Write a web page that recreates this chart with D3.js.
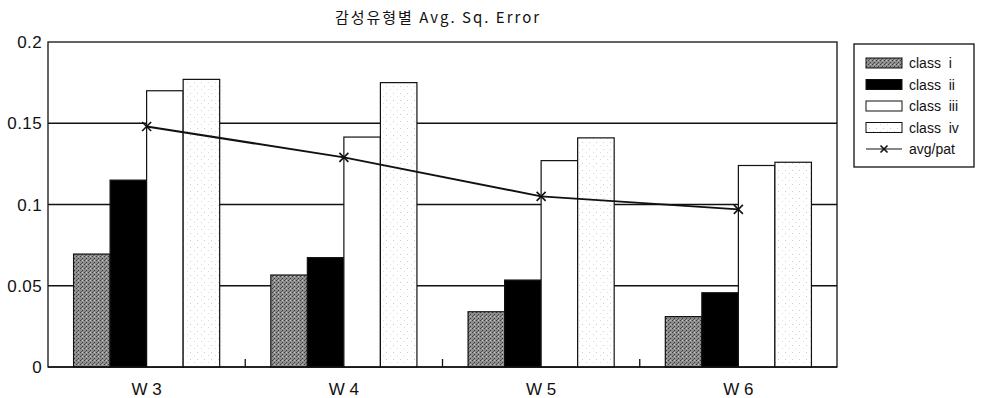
<!DOCTYPE html>
<html><head><meta charset="utf-8">
<script src="https://cdn.jsdelivr.net/npm/d3@7"></script>
<style>body{margin:0;background:#fff}svg{display:block}text{font-family:"Liberation Sans",Arial,sans-serif;fill:#111}</style>
</head><body><svg id="c" width="982" height="398"></svg>
<script>
const categories = ["W 3","W 4","W 5","W 6"];
const seriesNames = ["class  i","class  ii","class  iii","class  iv"];
const classI   = [0.0695, 0.0566, 0.034, 0.031];
const classII  = [0.115, 0.0673, 0.0535, 0.0457];
const classIII = [0.170, 0.1415, 0.127, 0.124];
const classIV  = [0.177, 0.175, 0.141, 0.126];
const avgPat   = [0.148, 0.129, 0.105, 0.097];
const yTicks = [0, 0.05, 0.1, 0.15, 0.2];
const yTickLabels = ["0","0.05","0.1","0.15","0.2"];
const title = "감성유형별  Avg.  Sq.  Error";
const lineName = "avg/pat";

const series = [classI, classII, classIII, classIV];
const fills = ["url(#pGray)", "#000", "#fff", "url(#pDots)"];

const svg = d3.select("#c");
const defs = svg.append("defs");
const pg = defs.append("pattern").attr("id","pGray").attr("width",4).attr("height",4).attr("patternUnits","userSpaceOnUse");
pg.append("rect").attr("width",4).attr("height",4).attr("fill","#8e8e8e");
pg.append("rect").attr("x",0).attr("y",0).attr("width",1).attr("height",1).attr("fill","#3a3a3a");
pg.append("rect").attr("x",2).attr("y",2).attr("width",1).attr("height",1).attr("fill","#3a3a3a");
pg.append("rect").attr("x",2).attr("y",0).attr("width",1).attr("height",1).attr("fill","#c0c0c0");
pg.append("rect").attr("x",1).attr("y",3).attr("width",1).attr("height",1).attr("fill","#5a5a5a");
const pd = defs.append("pattern").attr("id","pDots").attr("width",7).attr("height",7).attr("patternUnits","userSpaceOnUse");
pd.append("rect").attr("width",7).attr("height",7).attr("fill","#fff");
pd.append("rect").attr("x",1).attr("y",2).attr("width",1).attr("height",1).attr("fill","#ccc");
pd.append("rect").attr("x",5).attr("y",5).attr("width",1).attr("height",1).attr("fill","#ddd");

const L = 48, R = 837, T = 42, B = 367;
const x = d3.scaleBand().domain(categories).range([L, R]).paddingInner(0).paddingOuter(0);
const x1 = d3.scaleBand().domain(d3.range(4)).range([0, x.bandwidth()]).paddingInner(0).paddingOuter(0.7);
const y = d3.scaleLinear().domain([0, 0.2]).range([B, T]);

// title
svg.append("text").attr("x", 438).attr("y", 23).attr("text-anchor","middle")
  .style("font-family",'"Noto Sans CJK KR","Liberation Sans",sans-serif').style("font-size","15px")
  .style("letter-spacing","2px").text(title);

// gridlines
svg.append("g").selectAll("line").data(yTicks.filter(d => d > 0 && d < 0.2)).join("line")
  .attr("x1", L).attr("x2", R).attr("y1", d => y(d)).attr("y2", d => y(d))
  .attr("stroke","#111").attr("stroke-width",1.3);

// plot frame
svg.append("rect").attr("x", L).attr("y", T).attr("width", R - L).attr("height", B - T)
  .attr("fill","none").attr("stroke","#111").attr("stroke-width",1.3);

// bars
const g = svg.append("g");
categories.forEach((c, ci) => {
  series.forEach((s, si) => {
    g.append("rect")
      .attr("x", x(c) + x1(si)).attr("y", y(s[ci]))
      .attr("width", x1.bandwidth()).attr("height", y(0) - y(s[ci]))
      .attr("fill", fills[si]).attr("stroke", "#111").attr("stroke-width", 1.2);
  });
});

// x axis bottom ticks at band boundaries
svg.append("g").selectAll("line").data(categories.slice(1)).join("line")
  .attr("x1", d => x(d)).attr("x2", d => x(d)).attr("y1", B).attr("y2", B - 8)
  .attr("stroke","#111").attr("stroke-width",1.3);
svg.append("line").attr("x1",L).attr("x2",R).attr("y1",B).attr("y2",B).attr("stroke","#111").attr("stroke-width",1.5);

// x labels
svg.append("g").selectAll("text").data(categories).join("text")
  .attr("x", d => x(d) + x.bandwidth()/2).attr("y", 395).attr("text-anchor","middle")
  .style("font-size","17px").text(d => d);

// y labels
svg.append("g").selectAll("text").data(yTicks).join("text")
  .attr("x", 42).attr("y", d => y(d) + 6).attr("text-anchor","end")
  .style("font-size","17px").style("letter-spacing","0.4px").text((d,i) => yTickLabels[i]);

// avg line
const line = d3.line().x((d,i) => x(categories[i]) + x.bandwidth()/2).y(d => y(d));
svg.append("path").datum(avgPat).attr("d", line).attr("fill","none").attr("stroke","#111").attr("stroke-width",2);
const cross = (gSel, cx, cy, s) => {
  gSel.append("line").attr("x1",cx-s).attr("y1",cy-s).attr("x2",cx+s).attr("y2",cy+s).attr("stroke","#111").attr("stroke-width",1.6);
  gSel.append("line").attr("x1",cx-s).attr("y1",cy+s).attr("x2",cx+s).attr("y2",cy-s).attr("stroke","#111").attr("stroke-width",1.6);
};
const mk = svg.append("g");
avgPat.forEach((d,i) => cross(mk, x(categories[i]) + x.bandwidth()/2, y(d), 4.5));

// legend
const lg = svg.append("g");
lg.append("rect").attr("x",854).attr("y",44).attr("width",120).attr("height",123)
  .attr("fill","#fff").attr("stroke","#111").attr("stroke-width",1.3);
seriesNames.forEach((n, i) => {
  const cy = 63 + i * 21.5;
  lg.append("rect").attr("x",866).attr("y",cy-5).attr("width",36).attr("height",10)
    .attr("fill", fills[i]).attr("stroke","#111").attr("stroke-width",1);
  lg.append("text").attr("x",909).attr("y",cy+5).style("font-size","14px").style("white-space","pre").text(n);
});
{
  const cy = 149;
  lg.append("line").attr("x1",866).attr("x2",902).attr("y1",cy).attr("y2",cy).attr("stroke","#111").attr("stroke-width",1.2);
  cross(lg, 884, cy, 3.5);
  lg.append("text").attr("x",909).attr("y",cy+5).style("font-size","14px").text(lineName);
}
</script></body></html>
